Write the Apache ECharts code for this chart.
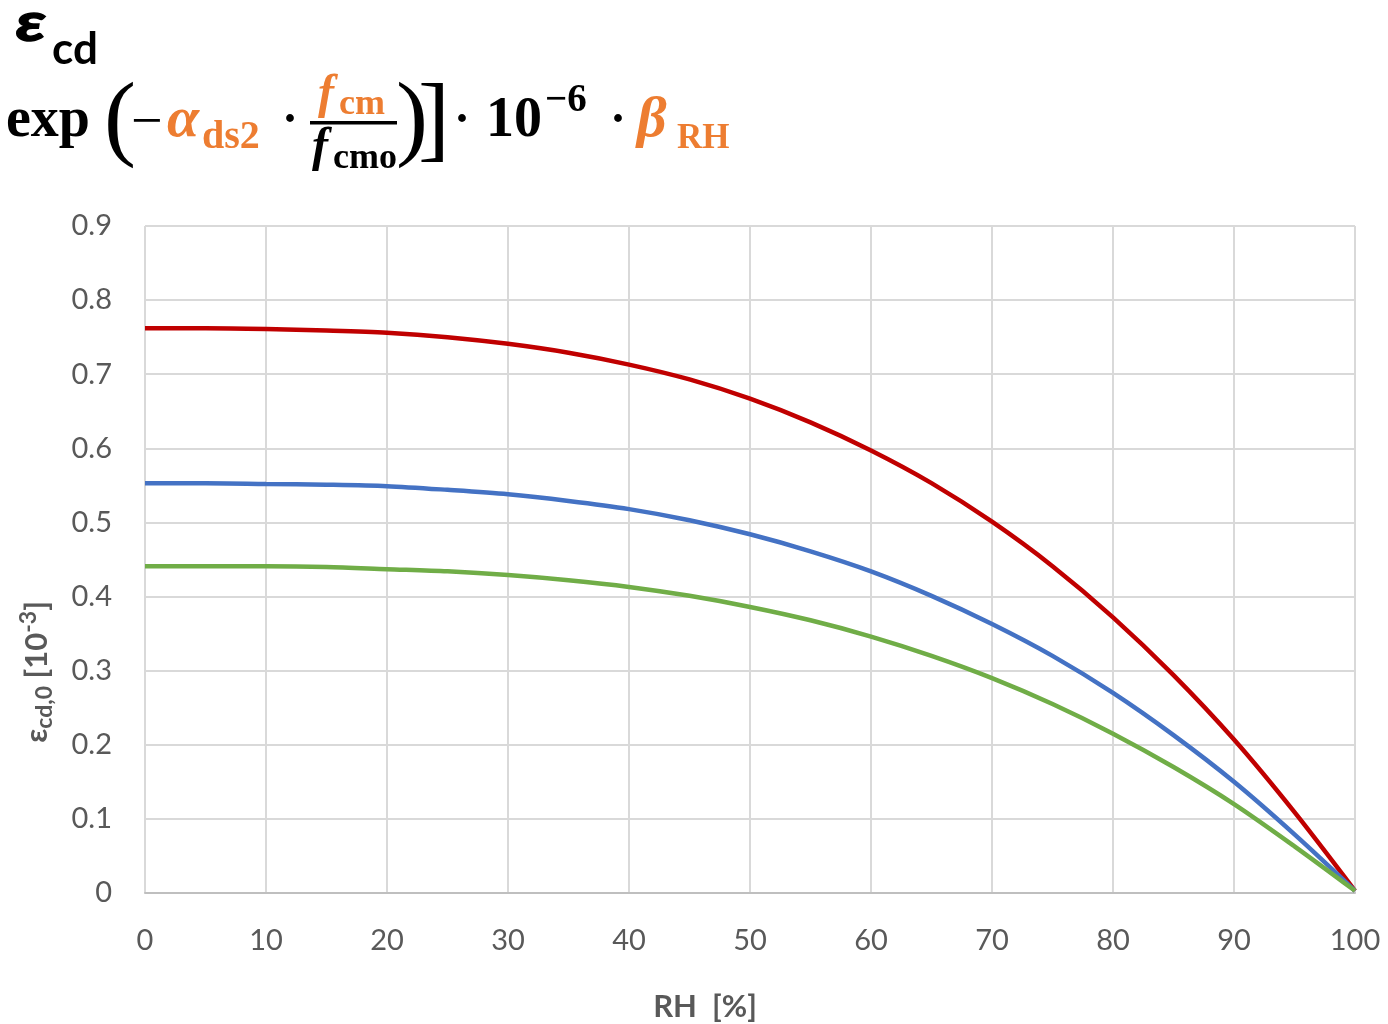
<!DOCTYPE html>
<html>
<head>
<meta charset="utf-8">
<script src="https://cdn.jsdelivr.net/npm/echarts@6/dist/echarts.min.js"></script>
<style>
  html, body { margin: 0; padding: 0; background: #fff; }
  #chart { width: 1388px; height: 1024px; }
</style>
</head>
<body>
<div id="chart"></div>
<script>
// RH [%] sample points
const rh = [0, 5, 10, 15, 20, 25, 30, 35, 40, 45, 50, 55, 60, 65, 70, 75, 80, 85, 90, 95, 100];
// eps_cd,0 [10^-3]
const redVals = [0.762, 0.762, 0.761, 0.759, 0.756, 0.750, 0.741, 0.729, 0.713, 0.693, 0.667, 0.635, 0.597, 0.553, 0.501, 0.441, 0.372, 0.294, 0.207, 0.109, 0.003];
const blueVals = [0.553, 0.553, 0.552, 0.551, 0.549, 0.544, 0.538, 0.529, 0.518, 0.503, 0.484, 0.461, 0.434, 0.401, 0.363, 0.320, 0.270, 0.213, 0.150, 0.079, 0.003];
const greenVals = [0.441, 0.441, 0.441, 0.440, 0.437, 0.434, 0.429, 0.422, 0.413, 0.401, 0.386, 0.368, 0.346, 0.320, 0.290, 0.255, 0.215, 0.170, 0.120, 0.063, 0.003];

const orange = '#ED7D31';
const serif = '"Liberation Serif", "DejaVu Serif", serif';
const sans = 'Lato, "Open Sans", sans-serif';

function pairs(ys) {
  return rh.map((x, i) => [x, ys[i]]);
}

function lineSeries(ys, color) {
  return {
    type: 'line',
    data: pairs(ys),
    smooth: 0.3,
    showSymbol: false,
    lineStyle: { color: color, width: 4.5 },
    itemStyle: { color: color }
  };
}

// formula piece, placed by its baseline (top-aligned text sits ~0.8em above baseline)
function txt(x, base, text, size, opts) {
  opts = opts || {};
  return {
    type: 'text',
    x: x,
    y: base - 0.8 * size,
    scaleX: opts.sx || 1,
    style: {
      text: text,
      fontFamily: opts.family || serif,
      fontSize: size,
      fontWeight: opts.weight || 'bold',
      fontStyle: opts.italic ? 'italic' : 'normal',
      fill: opts.color || '#000',
      stroke: opts.bold ? (opts.color || '#000') : null,
      lineWidth: opts.bold ? 1.5 : 0,
      textVerticalAlign: 'top',
      textAlign: opts.align || 'left'
    }
  };
}

let chart = echarts.init(document.getElementById('chart'));
chart.setOption({
  animation: false,
  backgroundColor: '#fff',
  grid: { left: 145, right: 33, top: 226, bottom: 131, containLabel: false },
  xAxis: {
    type: 'value',
    min: 0,
    max: 100,
    interval: 10,
    axisLine: { show: true, lineStyle: { color: '#BFBFBF', width: 2 } },
    axisTick: { show: false },
    splitLine: { show: true, lineStyle: { color: '#D9D9D9', width: 2 } },
    axisLabel: { color: '#595959', fontSize: 29, fontFamily: sans, margin: 33 }
  },
  yAxis: {
    type: 'value',
    min: 0,
    max: 0.9,
    interval: 0.1,
    axisLine: { show: false },
    axisTick: { show: false },
    splitLine: { show: true, lineStyle: { color: '#D9D9D9', width: 2 } },
    axisLabel: {
      color: '#595959', fontSize: 29, fontFamily: sans, margin: 33,
      formatter: v => (v === 0 ? '0' : v.toFixed(1))
    }
  },
  series: [
    lineSeries(redVals, '#C00000'),
    lineSeries(blueVals, '#4472C4'),
    lineSeries(greenVals, '#70AD47')
  ],
  graphic: [
    // y axis title
    {
      type: 'text',
      x: 37,
      y: 672,
      rotation: Math.PI / 2,
      style: {
        text: '{e|ε}{s|cd,0}{e| [10}{p|-3}{e|]}',
        textAlign: 'center',
        textVerticalAlign: 'middle',
        fill: '#595959',
        rich: {
          e: { fontSize: 31, fontWeight: 'bold', fontFamily: sans, fill: '#595959' },
          s: { fontSize: 23, fontWeight: 'bold', fontFamily: sans, fill: '#595959', padding: [16, 0, 0, 0] },
          p: { fontSize: 23, fontWeight: 'bold', fontFamily: sans, fill: '#595959', padding: [0, 0, 16, 0] }
        }
      }
    },
    // x axis title
    {
      type: 'text',
      x: 705,
      y: 1007,
      style: {
        text: 'RH  [%]',
        textAlign: 'center',
        textVerticalAlign: 'middle',
        fontFamily: sans,
        fontSize: 31,
        fontWeight: 'bold',
        fill: '#595959'
      }
    },
    // formula, first line
    txt(16, 40, 'ε', 54, { family: sans, italic: true, sx: 1.3, bold: true }),
    txt(52, 63, 'cd', 44, { family: sans }),
    // formula, second line
    txt(6, 138, 'exp', 56),
    { type: 'text', x: 104, y: 75, style: { text: '(', fontFamily: serif, fontSize: 96, fill: '#000', textVerticalAlign: 'top' } },
    txt(131, 141, '−', 56, { weight: 'normal' }),
    txt(167, 138, 'α', 58, { italic: true, color: orange }),
    txt(202, 150, 'ds2', 40, { color: orange }),
    txt(290, 136, '·', 48, { align: 'center' }),
    txt(318, 110, 'f', 48, { italic: true, color: orange }),
    txt(339, 116, 'cm', 36, { color: orange }),
    { type: 'rect', shape: { x: 310, y: 121, width: 87, height: 3.5 }, style: { fill: '#000' } },
    txt(312, 163, 'f', 48, { italic: true }),
    txt(333, 170, 'cmo', 36),
    { type: 'text', x: 396, y: 75, style: { text: ')', fontFamily: serif, fontSize: 96, fill: '#000', textVerticalAlign: 'top' } },
    { type: 'text', x: 418, y: 76, style: { text: ']', fontFamily: serif, fontSize: 96, fill: '#000', textVerticalAlign: 'top' } },
    txt(462, 136, '·', 48, { align: 'center' }),
    txt(486, 138, '10', 56),
    txt(545, 113, '−6', 39),
    txt(618, 136, '·', 48, { align: 'center' }),
    txt(637, 138, 'β', 58, { italic: true, color: orange }),
    txt(677, 149, 'RH', 35, { color: orange })
  ]
});
window.addEventListener('resize', () => {
  chart.resize();
});
</script>
</body>
</html>
